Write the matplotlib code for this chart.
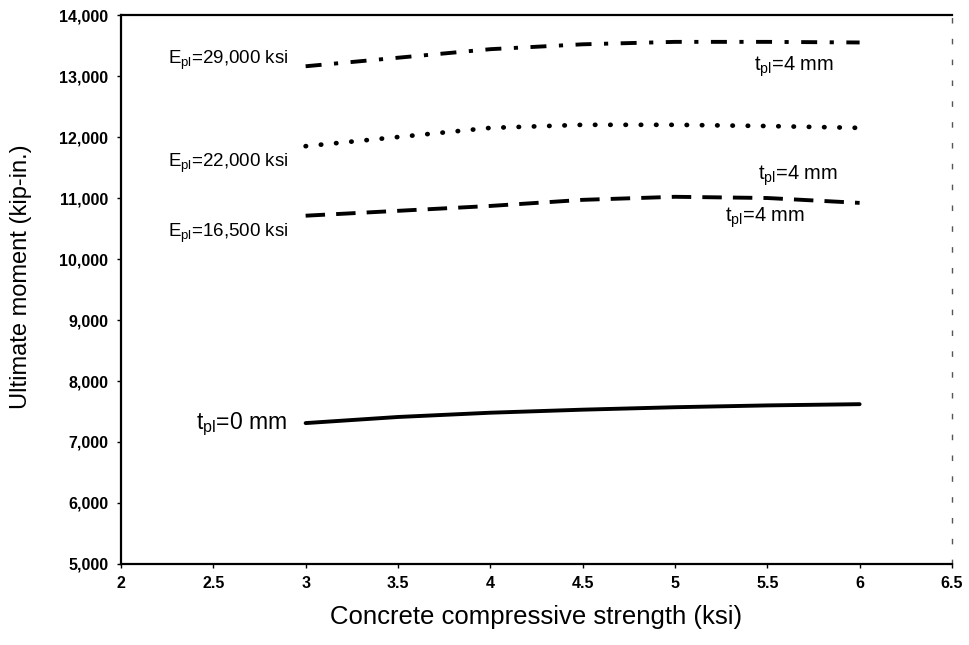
import numpy as np
import matplotlib
matplotlib.use("Agg")
import matplotlib.pyplot as plt
from matplotlib.ticker import FuncFormatter

plt.rcParams['font.family'] = ['Liberation Sans', 'DejaVu Sans']
plt.rcParams['mathtext.fontset'] = 'custom'
plt.rcParams['mathtext.rm'] = 'Liberation Sans'
plt.rcParams['lines.scale_dashes'] = False

# concrete strength (ksi)
fc = [3.0, 3.5, 4.0, 4.5, 5.0, 5.5, 6.0]
# ultimate moment (kip-in.)
m_e29000 = [13160, 13300, 13440, 13520, 13560, 13560, 13550]
m_e22000 = [11850, 12000, 12150, 12200, 12200, 12180, 12150]
m_e16500 = [10710, 10790, 10870, 10970, 11020, 11000, 10920]
m_t0 = [7310, 7410, 7480, 7530, 7570, 7600, 7620]

fig = plt.figure(figsize=(9.7, 6.45), dpi=100)
ax = fig.add_axes([0.1247, 0.1256, 0.8567, 0.8511])

ax.plot(fc, m_e29000, color='black', lw=2.8, linestyle=(0, (11.5, 9, 3, 9)))
ax.plot(fc, m_e22000, color='black', lw=3.4, linestyle=(0, (0.3, 10.7)), dash_capstyle='round')
ax.plot(fc, m_e16500, color='black', lw=2.8, linestyle=(0, (14, 8)))
ax.plot(fc, m_t0, color='black', lw=2.8, solid_capstyle='round')

fs = 13.5
ft = 14.5
ax.text(2.91, 13262, r'E$_{\rm pl}$=29,000 ksi', ha='right', va='center', fontsize=fs)
ax.text(5.43, 13150, r't$_{\rm pl}$=4 mm', ha='left', va='center', fontsize=ft)
ax.text(2.91, 11574, r'E$_{\rm pl}$=22,000 ksi', ha='right', va='center', fontsize=fs)
ax.text(5.45, 11361, r't$_{\rm pl}$=4 mm', ha='left', va='center', fontsize=ft)
ax.text(2.91, 10426, r'E$_{\rm pl}$=16,500 ksi', ha='right', va='center', fontsize=fs)
ax.text(5.27, 10672, r't$_{\rm pl}$=4 mm', ha='left', va='center', fontsize=ft)
ax.text(2.9, 7295, r't$_{\rm pl}$=0 mm', ha='right', va='center', fontsize=16.5)

ax.set_xlim(2, 6.5)
ax.set_ylim(5000, 14000)
ax.set_xticks(np.arange(2, 6.51, 0.5))
ax.set_yticks(np.arange(5000, 14001, 1000))
ax.xaxis.set_major_formatter(FuncFormatter(lambda v, p: ('%g' % v)))
ax.yaxis.set_major_formatter(FuncFormatter(lambda v, p: '{:,.0f}'.format(v)))
for lab in ax.get_xticklabels() + ax.get_yticklabels():
    lab.set_fontweight('bold')
ax.tick_params(direction='out', length=3, width=1, labelsize=11.5, pad=6)

ax.set_xlabel('Concrete compressive strength (ksi)', fontsize=18.5, labelpad=10)
ax.set_ylabel('Ultimate moment (kip-in.)', fontsize=17)
ax.yaxis.set_label_coords(-0.107, 0.523)

for s in ['left', 'bottom', 'top']:
    ax.spines[s].set_linewidth(1.6)
ax.spines['right'].set_linewidth(1.0)
ax.spines['right'].set_linestyle((0, (3, 12)))
ax.spines['right'].set_color('#555555')

fig.savefig('out.png', dpi=100)
